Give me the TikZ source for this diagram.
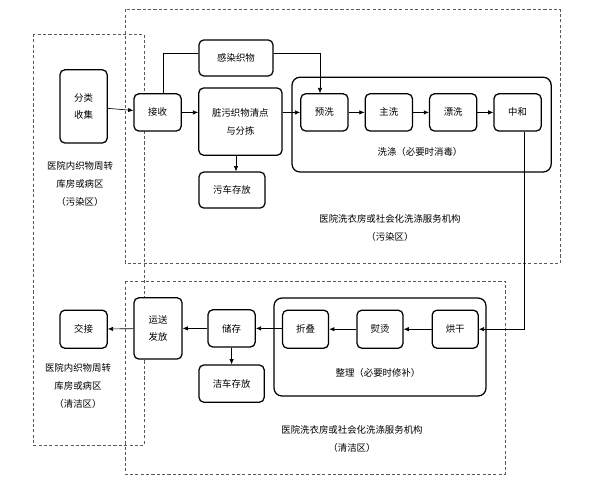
\documentclass[tikz,border=0pt]{standalone}
\usepackage{fontspec}
\setmainfont{Noto Sans CJK SC}
\usepackage{tikz}
\usetikzlibrary{shapes, arrows.meta, positioning, calc}
\tikzstyle{stage} = [rectangle, rounded corners=0.12cm, draw=black, line width=0.9pt, fill=white, inner sep=0pt, align=center, minimum width=1.18cm, minimum height=0.93cm]
\tikzstyle{group} = [rectangle, rounded corners=0.2cm, draw=black, line width=0.9pt]
\tikzstyle{zone} = [draw=black!65, line width=0.5pt, dash pattern=on 2.2pt off 1.6pt]
\tikzstyle{note} = [align=center, inner sep=0pt]
\tikzstyle{flow} = [-{Latex[length=1.3mm,width=1.1mm]}, line width=0.45pt]

\begin{document}
\begin{tikzpicture}[node distance=1.61cm, font=\fontsize{6.7pt}{12.6pt}\selectfont]
\useasboundingbox (0,0) rectangle (14.8,-12.2);
% zones
\draw[zone] (0.83,-0.85) rectangle (3.6,-11.13);
\draw[zone] (3.13,-0.23) rectangle (14.0,-6.58);
\draw[zone] (3.13,-7.03) rectangle (12.63,-11.85);
% groups
\draw[group] (7.3,-1.93) rectangle (13.78,-4.3);
\draw[group] (6.85,-7.45) rectangle (12.15,-9.9);
% dirty side
\node (fenlei) [stage, minimum height=1.83cm] at (2.09,-2.66) {分类\\收集};
\node (jieshou) [stage] at (3.94,-2.81) {接收};
\node (ganran) [stage, minimum width=1.85cm, minimum height=0.9cm] at (5.9,-1.45) {感染织物};
\node (zangwu) [stage, minimum width=2.08cm, minimum height=1.68cm] at (6.01,-3.04) {脏污织物清点\\与分拣};
\node (wuche) [stage, minimum width=1.65cm, minimum height=0.9cm, below of=zangwu, xshift=-0.21cm, yshift=-0.1cm] {污车存放};
\node (yuxi) [stage] at (8.11,-2.81) {预洗};
\node (zhuxi) [stage, right of=yuxi] {主洗};
\node (piaoxi) [stage, right of=zhuxi] {漂洗};
\node (zhonghe) [stage, right of=piaoxi] {中和};
\node (xidi) [note] at (10.5,-3.8) {洗涤（必要时消毒）};
\node (dirtyA) [note] at (2.0,-4.6) {医院内织物周转\\库房或病区\\（污染区）};
\node (dirtyB) [note] at (9.75,-5.7) {医院洗衣房或社会化洗涤服务机构\\（污染区）};
% clean side
\node (honggan) [stage, minimum width=1.15cm, minimum height=0.95cm] at (11.38,-8.23) {烘干};
\node (yuntang) [stage, minimum width=1.15cm, minimum height=0.95cm, left of=honggan, node distance=1.88cm] {熨烫};
\node (zhedie) [stage, minimum width=1.15cm, minimum height=0.95cm, left of=yuntang, node distance=1.86cm] {折叠};
\node (zhengli) [note] at (9.45,-9.33) {整理（必要时修补）};
\node (chucun) [stage] at (5.79,-8.21) {储存};
\node (jieche) [stage, minimum width=1.63cm, below of=chucun, node distance=1.38cm] {洁车存放};
\node (yunsong) [stage, minimum width=1.2cm, minimum height=1.53cm] at (3.95,-8.21) {运送\\发放};
\node (jiaojie) [stage, minimum height=0.95cm] at (2.09,-8.23) {交接};
\node (cleanA) [note] at (1.95,-9.65) {医院内织物周转\\库房或病区\\（清洁区）};
\node (cleanB) [note] at (8.8,-10.97) {医院洗衣房或社会化洗涤服务机构\\（清洁区）};
% connectors
\draw[flow] (fenlei) -- (jieshou);
\draw[flow] (jieshou) -- (jieshou -| zangwu.west);
\draw[line width=0.45pt] ([xshift=0.14cm]jieshou.north) |- ([yshift=0.12cm]ganran.west);
\draw[flow] ([yshift=0.12cm]ganran.east) -| ([xshift=-0.11cm]yuxi.north);
\draw[flow] (zangwu.east |- yuxi) -- (yuxi);
\draw[flow] (zangwu.south -| wuche.north) ++(0.1,0) -- ([xshift=0.1cm]wuche.north);
\draw[flow] (yuxi) -- (zhuxi);
\draw[flow] (zhuxi) -- (piaoxi);
\draw[flow] (piaoxi) -- (zhonghe);
\draw[flow] ([xshift=0.17cm]zhonghe.south) |- (honggan.east);
\draw[flow] (honggan) -- (yuntang);
\draw[flow] (yuntang) -- (zhedie);
\draw[flow] (zhedie.west |- chucun) -- (chucun);
\draw[flow] (chucun) -- (jieche);
\draw[flow] (chucun) -- (yunsong);
\draw[flow] (yunsong) -- (jiaojie);
\end{tikzpicture}
\end{document}
